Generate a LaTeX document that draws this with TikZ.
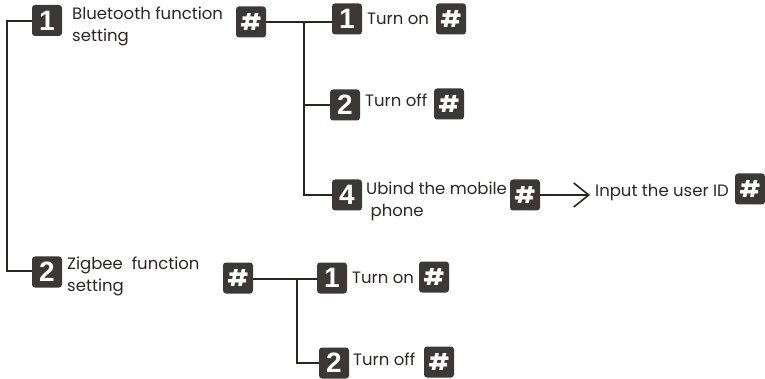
\documentclass[tikz,border=0pt]{standalone}
\usepackage{fontspec}
\setmainfont{Poppins}
\newfontfamily\keyfont{Liberation Sans}
\usetikzlibrary{positioning}
\usetikzlibrary{arrows.meta}

\definecolor{boxgray}{HTML}{3B3837}
\definecolor{linegray}{HTML}{2B2624}

\tikzset{
	numbox/.style={fill=boxgray, rounded corners=3pt, minimum width=30pt, minimum height=31pt,
		inner sep=0pt, text=white, font=\keyfont\fontsize{28}{28}\selectfont\bfseries},
	hashbox/.style={numbox, font=\fontsize{23}{23}\selectfont\bfseries},
	item/.style={anchor=base west, inner sep=0pt, align=left, text=linegray,
		font=\fontsize{16.5}{22}\selectfont},
	branch/.style={draw=linegray, line width=1.6pt}
}

\begin{document}
\begin{tikzpicture}[x=1pt, y=-1pt]
	\useasboundingbox (0,0) rectangle (765,379);

	% left trunk
	\coordinate (root) at (7,21);
	\coordinate (rootend) at (7,271);

	% bluetooth branch (two-line texts sit on the baseline of their last line)
	\node[numbox] (bt) at (47,20.5) {1};
	\node[item] (bttext) at (72,42) {Bluetooth function\\setting};
	\node[hashbox] (bthash) at (251,22) {\#};
	\coordinate (btfork) at (304,22);

	\node[numbox] (bton) at (347,19) {1};
	\node[item] (btontext) at (367,25) {Turn on};
	\node[hashbox] (btonhash) at (451,19) {\#};

	\node[numbox] (btoff) at (345,105) {2};
	\node[item] (btofftext) at (365,107) {Turn off};
	\node[hashbox] (btoffhash) at (449,104) {\#};

	\node[numbox] (btub) at (347,195) {4};
	\node[item] (btubtext) at (366,217) {Ubind the mobile\\\ phone};
	\node[hashbox] (btubhash) at (525,195) {\#};
	\coordinate (inputtip) at (590,195);
	\node[item] (inputtext) at (595,197) {Input the user ID};
	\node[hashbox] (inputhash) at (750,189) {\#};

	% zigbee branch
	\node[numbox] (zb) at (47,272) {2};
	\node[item] (zbtext) at (67,291) {Zigbee\ \ function\\setting};
	\node[hashbox] (zbhash) at (238,278) {\#};
	\coordinate (zbfork) at (297,279);

	\node[numbox] (zbon) at (332,278) {1};
	\node[item] (zbontext) at (352,283) {Turn on};
	\node[hashbox] (zbonhash) at (434,277) {\#};

	\node[numbox] (zboff) at (334,363) {2};
	\node[item] (zbofftext) at (353,365) {Turn off};
	\node[hashbox] (zboffhash) at (439,362) {\#};

	% connectors
	\draw[branch] (bt.west |- root) -- (root) -- (rootend) -- (zb.west |- rootend);
	\draw[branch] (bthash.east) -- (bton.west |- bthash.east);
	\draw[branch] (btfork) -- (btfork |- btub) -- (btub.west);
	\draw[branch] (btfork |- btoff) -- (btoff.west);
	\draw[branch, -{Straight Barb[length=15pt, width=24pt]}] (btubhash.east) -- (inputtip);
	\draw[branch] (zbhash.east |- zbfork) -- (zbon.west |- zbfork);
	\draw[branch] (zbfork) -- (zbfork |- zboff) -- (zboff.west);
\end{tikzpicture}
\end{document}
